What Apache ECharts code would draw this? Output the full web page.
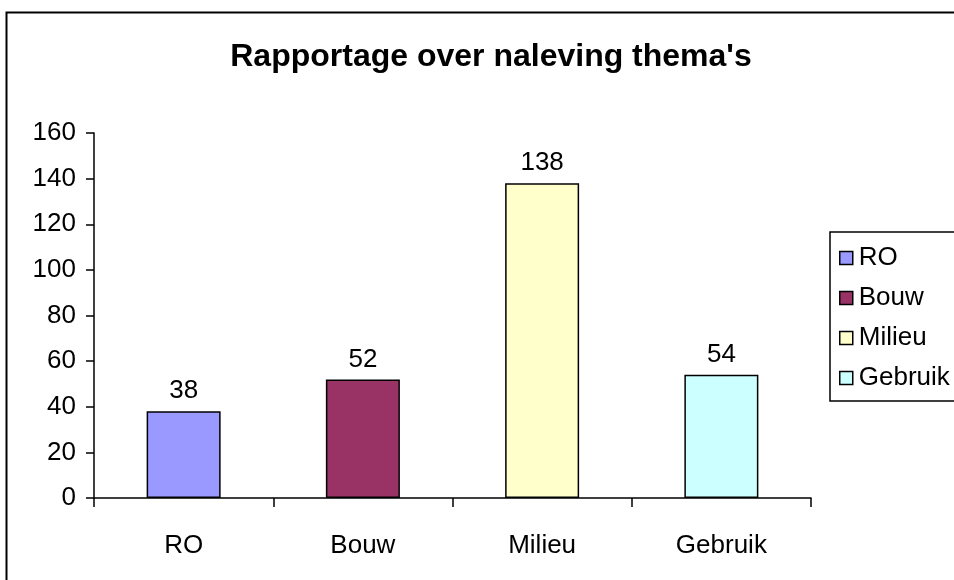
<!DOCTYPE html>
<html>
<head>
<meta charset="utf-8">
<script src="https://cdn.jsdelivr.net/npm/echarts@6/dist/echarts.min.js"></script>
<style>
html,body{margin:0;padding:0;background:#fff;}
#main{width:954px;height:580px;}
</style>
</head>
<body>
<div id="main"></div>
<script>
var chartTitle = "Rapportage over naleving thema's";
var categories = ['RO', 'Bouw', 'Milieu', 'Gebruik'];
var values = [38, 52, 138, 54];
var colors = ['#9999FF', '#993366', '#FFFFCC', '#CCFFFF'];
var yTicks = [0, 20, 40, 60, 80, 100, 120, 140, 160];

var font = 'Liberation Sans, Arial, sans-serif';
var chart = echarts.init(document.getElementById('main'));

var series = categories.map(function (name, i) {
  var d = categories.map(function (c, j) { return j === i ? values[i] : '-'; });
  return {
    name: name,
    type: 'bar',
    data: d,
    barWidth: 74,
    barGap: '-100%',
    itemStyle: { color: colors[i], borderColor: '#000', borderWidth: 1.5 },
    label: {
      show: true, position: 'top', distance: 7,
      color: '#000', fontFamily: font, fontSize: 26
    }
  };
});

chart.setOption({
  animation: false,
  backgroundColor: '#fff',
  title: {
    text: chartTitle,
    left: 486, top: 36, textAlign: 'center',
    textStyle: { fontFamily: font, fontSize: 32, fontWeight: 'bold', color: '#000' }
  },
  graphic: [{
    type: 'rect', left: 4, top: 10, z: -1,
    shape: { width: 1000, height: 620 },
    style: { fill: 'none', stroke: '#000', lineWidth: 2 }
  }],
  legend: {
    data: categories,
    orient: 'vertical',
    left: 830, top: 232,
    padding: [13, 20, 10, 9],
    itemGap: 14,
    itemWidth: 13, itemHeight: 13,
    borderColor: '#000', borderWidth: 1.5,
    icon: 'rect',
    itemStyle: { borderColor: '#000', borderWidth: 1.5 },
    textStyle: { fontFamily: font, fontSize: 26, lineHeight: 26, color: '#000', padding: [0, 0, 0, 1] }
  },
  grid: { left: 94, right: 143, top: 133, bottom: 82, containLabel: false },
  xAxis: {
    type: 'category',
    data: categories,
    axisLine: { lineStyle: { color: '#000', width: 1.5 } },
    axisTick: { show: true, length: 9, alignWithLabel: false, lineStyle: { color: '#000', width: 1.5 } },
    axisLabel: { color: '#000', fontFamily: font, fontSize: 26, margin: 35 },
    splitLine: { show: false }
  },
  yAxis: {
    type: 'value',
    min: yTicks[0], max: yTicks[yTicks.length - 1], interval: yTicks[1] - yTicks[0],
    axisLine: { show: true, lineStyle: { color: '#000', width: 1.5 } },
    axisTick: { show: true, length: 8, lineStyle: { color: '#000', width: 1.5 } },
    axisLabel: { color: '#000', fontFamily: font, fontSize: 26, margin: 18 },
    splitLine: { show: false }
  },
  series: series
});
</script>
</body>
</html>
